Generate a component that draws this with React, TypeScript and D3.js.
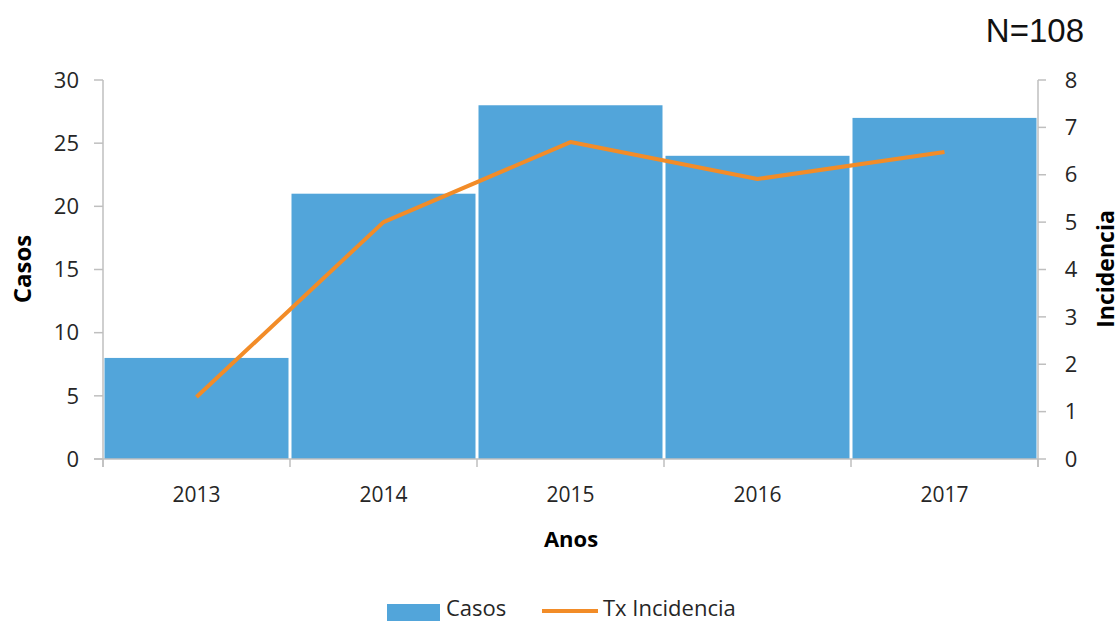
import React from "react";
import * as d3 from "d3";

const years = ["2013", "2014", "2015", "2016", "2017"];
const casos = [8, 21, 28, 24, 27];
const incidencia = [1.31, 5.0, 6.69, 5.91, 6.48];
const leftTicks = [0, 5, 10, 15, 20, 25, 30];
const rightTicks = [0, 1, 2, 3, 4, 5, 6, 7, 8];

const W = 1120;
const H = 625;
const FONT = "'Open Sans', 'Noto Sans', sans-serif";
const BAR = "#52A5DA";
const LINE = "#F28C28";
const AXIS = "#BFBFBF";
const TEXT = "#262626";

export default function App() {
  const x = d3.scaleBand<string>().domain(years).range([103, 1038]).padding(0);
  const yL = d3.scaleLinear().domain([0, 30]).range([459, 80]);
  const yR = d3.scaleLinear().domain([0, 8]).range([459, 80]);
  const bw = x.bandwidth();
  const line = d3
    .line<number>()
    .x((_, i) => (x(years[i]) as number) + bw / 2)
    .y((d) => yR(d));
  const boundaries = years.map((y) => x(y) as number).concat([x.range()[1]]);

  return (
    <div style={{ position: "absolute", left: 0, top: 0 }}>
      <svg width={W} height={H} style={{ display: "block", background: "#fff" }} fontFamily={FONT}>
        {casos.map((v, i) => (
          <rect
            key={years[i]}
            x={(x(years[i]) as number) + 1.5}
            y={yL(v)}
            width={bw - 3}
            height={yL(0) - yL(v)}
            fill={BAR}
          />
        ))}
        <line x1={103} x2={103} y1={yL(30)} y2={yL(0) + 8} stroke={AXIS} strokeWidth={1.5} />
        {leftTicks.map((t) => (
          <g key={"l" + t}>
            <line x1={94} x2={103} y1={yL(t)} y2={yL(t)} stroke={AXIS} strokeWidth={1.5} />
            <text x={79} y={yL(t)} dy="0.35em" textAnchor="end" fontSize={22} fill={TEXT}>
              {t}
            </text>
          </g>
        ))}
        <line x1={1038} x2={1038} y1={yR(8)} y2={yR(0) + 8} stroke={AXIS} strokeWidth={1.5} />
        {rightTicks.map((t) => (
          <g key={"r" + t}>
            <line x1={1038} x2={1046} y1={yR(t)} y2={yR(t)} stroke={AXIS} strokeWidth={1.5} />
            <text x={1071} y={yR(t)} dy="0.35em" textAnchor="middle" fontSize={22} fill={TEXT}>
              {t}
            </text>
          </g>
        ))}
        <line x1={94} x2={1038} y1={yL(0)} y2={yL(0)} stroke={AXIS} strokeWidth={1.5} />
        {boundaries.map((b, i) => (
          <line key={"xt" + i} x1={b} x2={b} y1={yL(0)} y2={yL(0) + 8} stroke={AXIS} strokeWidth={1.5} />
        ))}
        {years.map((yr) => (
          <text
            key={"xl" + yr}
            x={(x(yr) as number) + bw / 2}
            y={495}
            dy="0.35em"
            textAnchor="middle"
            fontSize={21}
            fill={TEXT}
          >
            {yr}
          </text>
        ))}
        <path d={line(incidencia) || ""} fill="none" stroke={LINE} strokeWidth={4} strokeLinejoin="round" />
        <text x={571} y={539} dy="0.35em" textAnchor="middle" fontSize={22} fontWeight="bold" fill="#000">
          Anos
        </text>
        <text
          transform="translate(23,269) rotate(-90)"
          dy="0.35em"
          textAnchor="middle"
          fontSize={24}
          fontWeight="bold"
          fill="#000"
        >
          Casos
        </text>
        <text
          transform="translate(1106,269) rotate(-90)"
          dy="0.35em"
          textAnchor="middle"
          fontSize={23}
          fontWeight="bold"
          fill="#000"
        >
          Incidencia
        </text>
        <text
          x={1084}
          y={42}
          textAnchor="end"
          fontSize={33}
          fill="#111"
          fontFamily="'Liberation Sans', Arial, sans-serif"
        >
          N=108
        </text>
        <rect x={387} y={604} width={53} height={17} fill={BAR} />
        <text x={446} y={616} fontSize={22} fill={TEXT}>
          Casos
        </text>
        <line x1={542} x2={598} y1={611} y2={611} stroke={LINE} strokeWidth={4} />
        <text x={603} y={616} fontSize={22} fill={TEXT}>
          Tx Incidencia
        </text>
      </svg>
    </div>
  );
}
